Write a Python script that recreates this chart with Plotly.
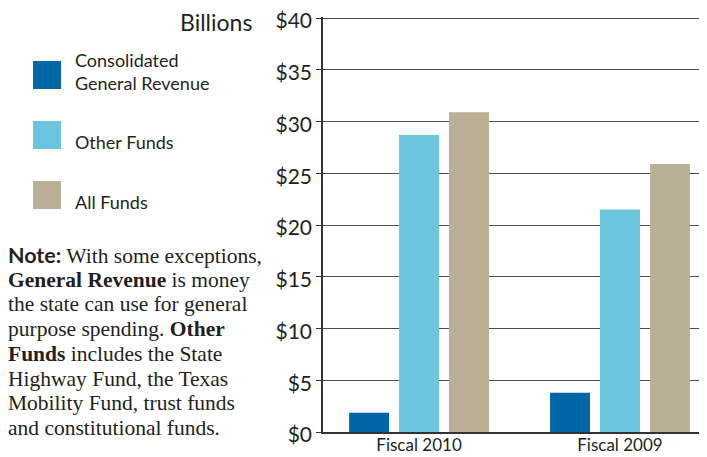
import plotly.graph_objects as go

categories = ["Fiscal 2010", "Fiscal 2009"]
series_names = ["Consolidated<br>General Revenue", "Other Funds", "All Funds"]
general_revenue = [1.85, 3.8]
other_funds = [28.7, 21.5]
all_funds = [30.9, 25.9]
y_ticks = [0, 5, 10, 15, 20, 25, 30, 35, 40]
y_tick_labels = ["$0", "$5", "$10", "$15", "$20", "$25", "$30", "$35", "$40"]

note_lines = [
    "<b><span style=\"font-family:Lato\">Note:</span></b> With some exceptions,",
    "<b>General Revenue</b> is money",
    "the state can use for general",
    "purpose spending. <b>Other</b>",
    "<b>Funds</b> includes the State",
    "Highway Fund, the Texas",
    "Mobility Fund, trust funds",
    "and constitutional funds.",
]

colors = ["#0067a6", "#6bc5dc", "#b8af95"]
sans = "Lato, 'Open Sans', sans-serif"
serif = "'Liberation Serif', serif"
ink = "#231f20"

# page has an 8px body margin, so the figure is sized to fit that offset
fig = go.Figure()
for name, vals, c in zip(series_names, [general_revenue, other_funds, all_funds], colors):
    fig.add_trace(go.Bar(x=categories, y=vals, name=name, marker_color=c,
                         marker_line_width=0, showlegend=False))

fig.update_layout(
    width=699, height=449,
    margin=dict(l=315, r=0, t=9, b=25),
    paper_bgcolor="white", plot_bgcolor="white",
    barmode="group", bargap=0.254, bargroupgap=0.2,
    font=dict(family=sans, color=ink),
)
fig.update_xaxes(
    range=[-0.478, 1.433], showgrid=False, ticks="", automargin=False,
    showline=True, linecolor="#333", linewidth=1.5,
    tickfont=dict(size=17, family=sans, color=ink),
    ticklabelstandoff=-3,
)
fig.update_yaxes(
    range=[0, 40.1], tickvals=y_ticks, ticktext=y_tick_labels, automargin=False,
    showgrid=True, gridcolor="#4d4d4d", gridwidth=1.3,
    showline=True, linecolor="#333", linewidth=1.5,
    ticks="outside", ticklen=5, tickcolor="#333",
    tickfont=dict(size=21, family=sans, color=ink),
    ticklabeloverflow="allow", ticklabelshift=3,
    zeroline=False,
)

def px(x):
    return (x - 323) / 384

def py(y):
    return (432 - y) / 415

fig.add_annotation(text="Billions", xref="paper", yref="paper", x=px(254), y=py(22),
                   xanchor="right", yanchor="middle", showarrow=False,
                   font=dict(size=23, family=sans, color=ink))

# legend built from squares and labels
legend_y = [75, 135, 195]
for name, c, yy in zip(series_names, colors, legend_y):
    fig.add_shape(type="rect", xref="paper", yref="paper",
                  x0=px(33), x1=px(61), y0=py(yy + 14), y1=py(yy - 14),
                  fillcolor=c, line_width=0)
    label_y = yy - 3 if "<br>" in name else yy + 7
    fig.add_annotation(text=name, xref="paper", yref="paper",
                       x=px(73), y=py(label_y),
                       xanchor="left", yanchor="middle", align="left",
                       showarrow=False,
                       font=dict(size=18, family=sans, color=ink))

for i, line in enumerate(note_lines):
    fig.add_annotation(text=line, xref="paper", yref="paper",
                       x=px(6), y=py(255 + i * 24.7),
                       xanchor="left", yanchor="middle", align="left",
                       showarrow=False,
                       font=dict(size=21.5, family=serif, color=ink))

fig.write_html("out.html")
